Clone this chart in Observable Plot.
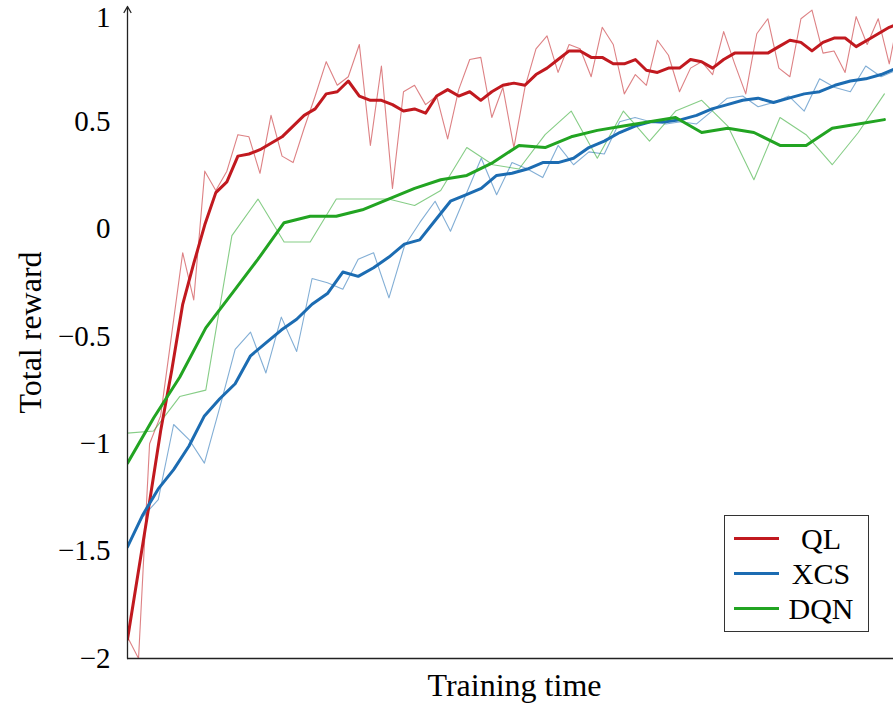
<!DOCTYPE html>
<html>
<head>
<meta charset="utf-8">
<script src="https://cdn.jsdelivr.net/npm/d3@7"></script>
<script src="https://cdn.jsdelivr.net/npm/@observablehq/plot@0.6"></script>
<style>
  body { margin: 0; background: #fff; }
  #wrap { position: relative; width: 893px; height: 704px; font-family: "Liberation Serif", "DejaVu Serif", serif; }
  .legend { position: absolute; left: 724px; top: 515px; width: 145px; height: 117px; border: 1.3px solid #333; background: #fff; box-sizing: border-box; }
  .row { position: absolute; left: 0; width: 100%; height: 30px; }
  .sw { position: absolute; left: 9px; top: 13px; width: 45px; height: 3px; }
  .lab { position: absolute; left: 54px; width: 84px; top: 0; text-align: center; font-size: 30px; line-height: 30px; color: #000; }
</style>
</head>
<body>
<div id="wrap"></div>
<script>
// ---- data ----
const seriesNames = ["QL", "XCS", "DQN"];
const seriesColors = ["#c1191f", "#1c6cb2", "#22a422"];

// sampling interval of each series in training-time units
const qlStep = 11.04, xcsStep = 15.38, dqnStep = 26.1;
const timeMax = 766;

const qlRaw = [-1.90, -2.00, -1.00, -0.87, -0.49, -0.11, -0.33, 0.27, 0.18, 0.27,
  0.44, 0.43, 0.26, 0.53, 0.34, 0.31, 0.47, 0.62, 0.78, 0.67,
  0.71, 0.86, 0.39, 0.76, 0.19, 0.64, 0.67, 0.58, 0.62, 0.42,
  0.65, 0.79, 0.80, 0.52, 0.66, 0.38, 0.66, 0.84, 0.90, 0.73,
  0.86, 0.84, 0.71, 0.94, 0.86, 0.63, 0.72, 0.67, 0.88, 0.81,
  0.64, 0.75, 0.78, 0.72, 0.92, 0.77, 0.63, 0.91, 0.98, 0.75,
  0.71, 0.98, 1.02, 0.82, 0.83, 0.73, 0.99, 0.86, 0.98, 0.77, 1.03];
const qlSmooth = [-1.91, -1.59, -1.27, -0.94, -0.66, -0.35, -0.16, 0.02, 0.17, 0.22,
  0.34, 0.35, 0.37, 0.40, 0.43, 0.48, 0.53, 0.56, 0.63, 0.64,
  0.69, 0.62, 0.60, 0.60, 0.58, 0.55, 0.56, 0.54, 0.62, 0.65,
  0.62, 0.64, 0.60, 0.64, 0.67, 0.68, 0.67, 0.72, 0.75, 0.79,
  0.83, 0.83, 0.80, 0.80, 0.77, 0.77, 0.79, 0.74, 0.73, 0.75,
  0.75, 0.79, 0.78, 0.75, 0.79, 0.82, 0.82, 0.82, 0.82, 0.85,
  0.88, 0.87, 0.83, 0.87, 0.89, 0.89, 0.85, 0.88, 0.91, 0.94, 0.96];

const xcsRaw = [-1.47, -1.34, -1.26, -0.91, -0.98, -1.09, -0.83, -0.56, -0.48, -0.67,
  -0.41, -0.57, -0.23, -0.25, -0.28, -0.14, -0.11, -0.32, -0.08, 0.03,
  0.13, -0.01, 0.16, 0.33, 0.16, 0.31, 0.28, 0.24, 0.39, 0.30,
  0.36, 0.35, 0.50, 0.52, 0.50, 0.49, 0.50, 0.49, 0.55, 0.61,
  0.62, 0.57, 0.59, 0.62, 0.55, 0.70, 0.66, 0.64, 0.76, 0.71, 0.74];
const xcsSmooth = [-1.48, -1.33, -1.21, -1.12, -1.01, -0.87, -0.79, -0.72, -0.59, -0.53,
  -0.47, -0.42, -0.35, -0.30, -0.20, -0.22, -0.18, -0.13, -0.07, -0.05,
  0.04, 0.13, 0.16, 0.19, 0.25, 0.26, 0.28, 0.31, 0.31, 0.33,
  0.38, 0.41, 0.45, 0.48, 0.50, 0.50, 0.51, 0.53, 0.56, 0.58,
  0.60, 0.61, 0.59, 0.61, 0.63, 0.64, 0.67, 0.69, 0.70, 0.72, 0.75];

const dqnRaw = [-0.95, -0.94, -0.78, -0.75, -0.03, 0.14, -0.06, -0.06, 0.14, 0.14,
  0.14, 0.11, 0.18, 0.38, 0.30, 0.28, 0.44, 0.55, 0.33, 0.55,
  0.41, 0.55, 0.60, 0.48, 0.23, 0.52, 0.44, 0.30, 0.45, 0.63];
const dqnSmooth = [-1.09, -0.88, -0.69, -0.46, -0.30, -0.14, 0.03, 0.06, 0.06, 0.09,
  0.14, 0.19, 0.23, 0.25, 0.31, 0.39, 0.38, 0.43, 0.46, 0.48,
  0.50, 0.52, 0.45, 0.47, 0.45, 0.39, 0.39, 0.47, 0.49, 0.51];

const yTicks = [-2, -1.5, -1, -0.5, 0, 0.5];
const yTopTick = [1];
const yMin = -2, yTop = 1.037;
const xLabel = "Training time";
const yLabel = "Total reward";

// ---- chart ----
const fmt = d => (d < 0 ? "\u2212" + Math.abs(d) : String(d));
const thin = (arr, step, color) => Plot.line(arr, {
  x: (d, i) => i * step, y: d => d, stroke: color, strokeWidth: 1.1, strokeOpacity: 0.55, clip: true
});
const thick = (arr, step, color) => Plot.line(arr, {
  x: (d, i) => i * step, y: d => d, stroke: color, strokeWidth: 3, strokeLinejoin: "round", clip: true
});

const chart = Plot.plot({
  width: 893,
  height: 704,
  marginLeft: 127,
  marginRight: 0,
  marginTop: 6,
  marginBottom: 46,
  style: { fontFamily: '"Liberation Serif", "DejaVu Serif", serif', fontSize: "29px", color: "#000", background: "#fff" },
  x: { domain: [0, timeMax], axis: null },
  y: { domain: [yMin, yTop], axis: null },
  marks: [
    Plot.axisY({ ticks: yTicks, tickFormat: fmt, tickSize: 0, tickPadding: 17, label: null }),
    Plot.axisY({ ticks: yTopTick, tickFormat: fmt, tickSize: 0, tickPadding: 17, label: null, dy: 3 }),
    thin(qlRaw, qlStep, seriesColors[0]),
    thin(xcsRaw, xcsStep, seriesColors[1]),
    thin(dqnRaw, dqnStep, seriesColors[2]),
    thick(qlSmooth, qlStep, seriesColors[0]),
    thick(xcsSmooth, xcsStep, seriesColors[1]),
    thick(dqnSmooth, dqnStep, seriesColors[2]),
    Plot.ruleY([yMin], { stroke: "#222", strokeWidth: 1.3 }),
    Plot.arrow([0], { x1: 0, x2: 0, y1: yMin, y2: yTop, stroke: "#222", strokeWidth: 1.3, headLength: 8, bend: 0 }),
    Plot.text([xLabel], { text: d => d, frameAnchor: "bottom", lineAnchor: "middle", dy: 27, dx: 4, fontSize: 32 }),
    Plot.text([yLabel], { text: d => d, frameAnchor: "left", textAnchor: "middle", lineAnchor: "middle", rotate: -90, dx: -97, fontSize: 32 })
  ]
});

const wrap = document.getElementById("wrap");
wrap.appendChild(chart);

// legend (inside the plot area, bottom right)
const leg = document.createElement("div");
leg.className = "legend";
seriesNames.forEach((name, i) => {
  const row = document.createElement("div");
  row.className = "row";
  row.style.top = (8 + i * 35) + "px";
  const sw = document.createElement("div");
  sw.className = "sw";
  sw.style.background = seriesColors[i];
  const lab = document.createElement("div");
  lab.className = "lab";
  lab.textContent = name;
  row.appendChild(sw);
  row.appendChild(lab);
  leg.appendChild(row);
});
wrap.appendChild(leg);
</script>
</body>
</html>
